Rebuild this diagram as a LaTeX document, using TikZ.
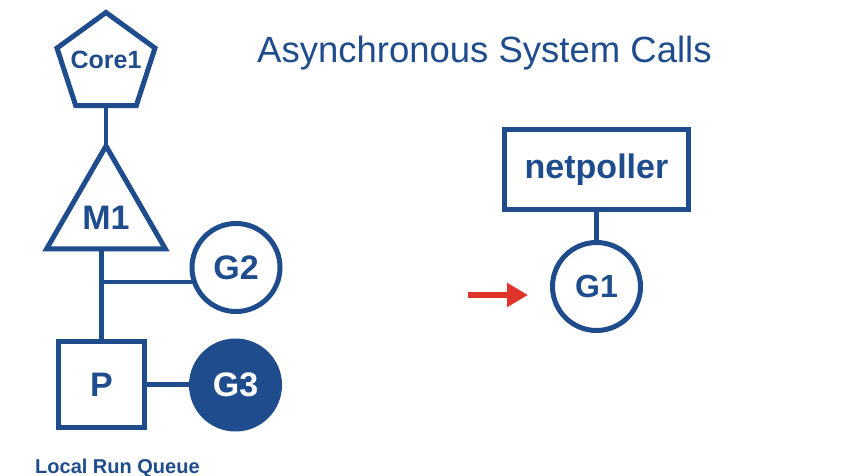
\documentclass[tikz,border=0pt]{standalone}
\usepackage{fontspec}
\setmainfont{Liberation Sans}
\usetikzlibrary{shapes.geometric,arrows.meta}
\definecolor{gblue}{RGB}{30,76,140}
\definecolor{gred}{RGB}{222,52,42}
\tikzset{
  shp/.style={draw=gblue, line width=5pt, inner sep=0pt, outer sep=0pt, text=gblue, font=\bfseries\fontsize{34}{34}\selectfont},
  gcirc/.style={shp, circle, minimum size=88pt},
  conn/.style={draw=gblue, line width=4.5pt},
}
\begin{document}
\begin{tikzpicture}[x=1pt,y=1pt]
\useasboundingbox[fill=white] (0,0) rectangle (856,-476);
% title
\node[anchor=base west, text=gblue, font=\fontsize{36.5}{36.5}\selectfont, inner sep=0pt] (title) at (257,-63) {Asynchronous System Calls};
% left stack
\node[shp, regular polygon, regular polygon sides=5, minimum size=103pt,
  label={[text=gblue, font=\bfseries\fontsize{25}{25}\selectfont, yshift=4.5pt]center:Core1}] (core) at (106,-64) {};
\node[shp, regular polygon, regular polygon sides=3, minimum size=137pt,
  label={[text=gblue, font=\bfseries\fontsize{34}{34}\selectfont, yshift=-3.5pt]center:M1}] (m1) at (106,-214.5) {};
\node[shp, rectangle, minimum width=86pt, minimum height=86pt] (p) at (101.5,-384.5) {P};
\node[gcirc] (g2) at (236,-267.5) {G2};
\node[gcirc, fill=gblue, text=white] (g3) at (235.5,-385) {G3};
\coordinate (j) at (p.north |- g2.199);
\draw[conn] (core.south) -- (m1.north);
\draw[conn] (p.north) -- (p.north |- m1.south);
\draw[conn] (j) -- (g2.199);
\draw[conn] (p.east) -- (p.east -| g3.west);
\node[anchor=base west, inner sep=0pt, text=gblue, font=\bfseries\fontsize{20}{20}\selectfont] (lrq) at (35,-473) {Local Run Queue};
% right side
\node[shp, rectangle, minimum width=184pt, minimum height=80pt] (np) at (596.5,-169.5) {netpoller};
\node[gcirc, font=\bfseries\fontsize{32}{32}\selectfont] (g1) at (596.5,-286.5) {G1};
\draw[conn] (np.south) -- (g1.north);
% red arrow
\coordinate (ra) at (468,-295);
\coordinate (rb) at (528,-295);
\draw[gred, line width=6pt, -{Triangle[length=21pt, width=23pt]}] (ra) -- (rb);
\end{tikzpicture}
\end{document}
